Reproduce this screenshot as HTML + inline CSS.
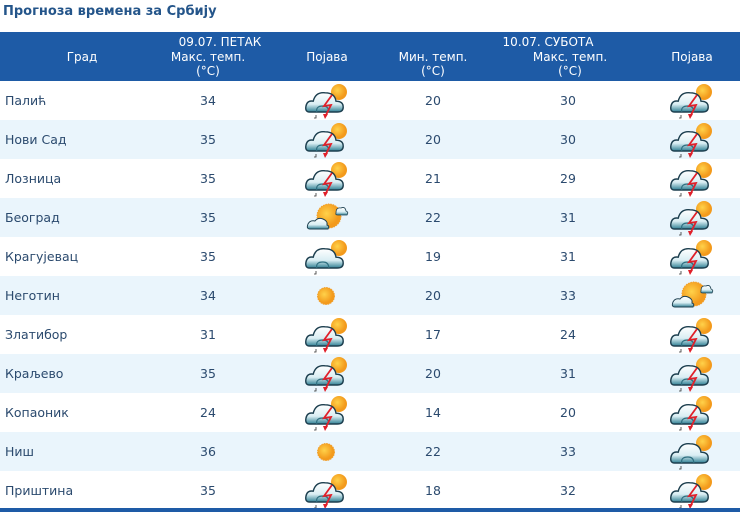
<!DOCTYPE html>
<html><head><meta charset="utf-8"><style>
body{margin:0;width:748px;height:512px;background:#fff;font-family:"DejaVu Sans","Liberation Sans",sans-serif;overflow:hidden;position:relative}
.t{position:absolute;left:3px;top:4px;font-size:13px;font-weight:bold;color:#24558a}
.hd{position:absolute;left:0;top:32px;width:740px;height:49px;background:#1e5ba6;color:#fff;font-size:12px}
.hd div{position:absolute;text-align:center;line-height:14px}
.row{position:absolute;left:0;width:740px;height:39px;font-size:12.5px;color:#2b4a6e}
.row span{position:absolute;top:12px;text-align:center;width:80px}
.row svg{position:absolute;top:0px}
.alt{background:#eaf5fc}
.bot{position:absolute;left:0;top:508px;width:740px;height:4px;background:#1e5ba6}
</style></head><body>
<svg width="0" height="0" style="position:absolute">
<defs>
<radialGradient id="sg" cx="0.4" cy="0.4"><stop offset="0" stop-color="#ffd24a"/><stop offset="1" stop-color="#f39a1c"/></radialGradient>
<linearGradient id="cg" x1="0" y1="0" x2="0" y2="1"><stop offset="0" stop-color="#fff"/><stop offset="0.6" stop-color="#d9eef3"/><stop offset="1" stop-color="#2f7f93"/></linearGradient>
<g id="cloud0"><path d="M8 30 Q4 30 5 25 Q6 20 11 21 Q13 13 21 14 Q29 14 30 21 Q36 21 36 26 Q36 30 31 30 Z" fill="url(#cg)" stroke="#1d3f4f" stroke-width="1.2"/><path d="M14 30 Q13 25 19 25 Q24 25 24 30" fill="none" stroke="#2f6f80" stroke-width="1"/></g>
<g id="cloud"><use href="#cloud0" transform="translate(-3,-5) scale(1.2)"/></g>
<g id="storm"><circle cx="36" cy="11" r="8" fill="url(#sg)"/><use href="#cloud"/><path d="M29 14 L21 25 L28 24 L22 36" fill="none" stroke="#e0202a" stroke-width="1.8"/><path d="M20 33 L22 38 L25 33" fill="#e0202a"/><path d="M13 34 L13 37 L11 37" fill="none" stroke="#333" stroke-width="0.8"/></g>
<g id="cs"><circle cx="36" cy="11" r="8" fill="url(#sg)"/><use href="#cloud"/><path d="M13 34 L13 37 L11 37" fill="none" stroke="#333" stroke-width="0.8"/></g>
<g id="sun"><circle cx="26" cy="20" r="8.5" fill="url(#sg)" stroke="#f0a030" stroke-width="1" stroke-dasharray="1.5 1"/></g>
<g id="sc"><circle cx="26" cy="18" r="12" fill="url(#sg)" stroke="#f0a030" stroke-dasharray="1.5 1"/><path d="M7 31 Q3 31 5 26 Q7 22 12 23 Q15 19 20 21 Q25 23 24 27 Q27 28 25 31 Z" fill="url(#cg)" stroke="#1d3f4f"/><path d="M33 15 Q33 9 38 10 Q42 8 43 13 Q46 14 44 17 L35 17 Q32 17 33 15Z" fill="url(#cg)" stroke="#1d3f4f" stroke-width="0.8"/></g>
</defs></svg>
<div class="t">Прогноза времена за Србију</div>
<div class="hd">
<div style="left:42px;width:80px;top:18px">Град</div>
<div style="left:150px;width:140px;top:3px">09.07. ПЕТАК</div>
<div style="left:150px;width:116px;top:18px">Макс. темп.<br>(°C)</div>
<div style="left:287px;width:80px;top:18px">Појава</div>
<div style="left:478px;width:140px;top:3px">10.07. СУБОТА</div>
<div style="left:383px;width:100px;top:18px">Мин. темп.<br>(°C)</div>
<div style="left:515px;width:110px;top:18px">Макс. темп.<br>(°C)</div>
<div style="left:652px;width:80px;top:18px">Појава</div>
</div>
<div class="row" style="top:81px"><span style="left:5px;text-align:left">Палић</span><span style="left:168px">34</span><svg style="left:303px" width="48" height="40"><use href="#storm"/></svg><span style="left:393px">20</span><span style="left:528px">30</span><svg style="left:668px" width="48" height="40"><use href="#storm"/></svg></div>
<div class="row alt" style="top:120px"><span style="left:5px;text-align:left">Нови Сад</span><span style="left:168px">35</span><svg style="left:303px" width="48" height="40"><use href="#storm"/></svg><span style="left:393px">20</span><span style="left:528px">30</span><svg style="left:668px" width="48" height="40"><use href="#storm"/></svg></div>
<div class="row" style="top:159px"><span style="left:5px;text-align:left">Лозница</span><span style="left:168px">35</span><svg style="left:303px" width="48" height="40"><use href="#storm"/></svg><span style="left:393px">21</span><span style="left:528px">29</span><svg style="left:668px" width="48" height="40"><use href="#storm"/></svg></div>
<div class="row alt" style="top:198px"><span style="left:5px;text-align:left">Београд</span><span style="left:168px">35</span><svg style="left:303px" width="48" height="40"><use href="#sc"/></svg><span style="left:393px">22</span><span style="left:528px">31</span><svg style="left:668px" width="48" height="40"><use href="#storm"/></svg></div>
<div class="row" style="top:237px"><span style="left:5px;text-align:left;width:120px">Крагујевац</span><span style="left:168px">35</span><svg style="left:303px" width="48" height="40"><use href="#cs"/></svg><span style="left:393px">19</span><span style="left:528px">31</span><svg style="left:668px" width="48" height="40"><use href="#storm"/></svg></div>
<div class="row alt" style="top:276px"><span style="left:5px;text-align:left">Неготин</span><span style="left:168px">34</span><svg style="left:300px" width="48" height="40"><use href="#sun"/></svg><span style="left:393px">20</span><span style="left:528px">33</span><svg style="left:668px" width="48" height="40"><use href="#sc"/></svg></div>
<div class="row" style="top:315px"><span style="left:5px;text-align:left">Златибор</span><span style="left:168px">31</span><svg style="left:303px" width="48" height="40"><use href="#storm"/></svg><span style="left:393px">17</span><span style="left:528px">24</span><svg style="left:668px" width="48" height="40"><use href="#storm"/></svg></div>
<div class="row alt" style="top:354px"><span style="left:5px;text-align:left">Краљево</span><span style="left:168px">35</span><svg style="left:303px" width="48" height="40"><use href="#storm"/></svg><span style="left:393px">20</span><span style="left:528px">31</span><svg style="left:668px" width="48" height="40"><use href="#storm"/></svg></div>
<div class="row" style="top:393px"><span style="left:5px;text-align:left">Копаоник</span><span style="left:168px">24</span><svg style="left:303px" width="48" height="40"><use href="#storm"/></svg><span style="left:393px">14</span><span style="left:528px">20</span><svg style="left:668px" width="48" height="40"><use href="#storm"/></svg></div>
<div class="row alt" style="top:432px"><span style="left:5px;text-align:left">Ниш</span><span style="left:168px">36</span><svg style="left:300px" width="48" height="40"><use href="#sun"/></svg><span style="left:393px">22</span><span style="left:528px">33</span><svg style="left:668px" width="48" height="40"><use href="#cs"/></svg></div>
<div class="row" style="top:471px"><span style="left:5px;text-align:left">Приштина</span><span style="left:168px">35</span><svg style="left:303px" width="48" height="40"><use href="#storm"/></svg><span style="left:393px">18</span><span style="left:528px">32</span><svg style="left:668px" width="48" height="40"><use href="#storm"/></svg></div>
<div class="bot"></div>
</body></html>
